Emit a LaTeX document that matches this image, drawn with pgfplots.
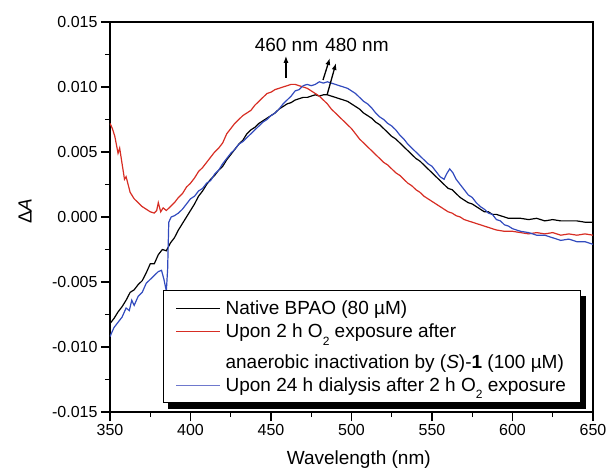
\documentclass[border=0pt]{standalone}
\usepackage{pgfplots}
\pgfplotsset{compat=1.18}
\usepackage{pgfplotstable}
\usepackage{fontspec}
\setmainfont{Liberation Sans}
\usetikzlibrary{arrows.meta}

\definecolor{cred}{RGB}{215,45,35}
\definecolor{cblue}{RGB}{50,75,190}
\definecolor{legblue}{RGB}{110,120,205}

\newcommand{\low}[1]{\raisebox{-0.4em}{\fontsize{12}{12}\selectfont #1}}

% native BPAO
\pgfplotstableread{
x y
350.0 -0.0082
352.5 -0.0078
355.0 -0.0073
357.5 -0.0069
360.0 -0.0064
362.5 -0.0058
365.0 -0.0056
367.5 -0.0052
370.0 -0.0049
372.5 -0.0043
375.0 -0.0036
377.5 -0.0036
380.0 -0.0029
382.5 -0.0025
385.0 -0.0026
387.5 -0.0020
390.0 -0.0016
392.5 -0.0010
395.0 -0.0005
397.5 0.0000
400.0 0.0005
402.5 0.0010
405.0 0.0016
407.5 0.0020
410.0 0.0025
412.5 0.0029
415.0 0.0032
417.5 0.0036
420.0 0.0039
422.5 0.0044
425.0 0.0048
427.5 0.0052
430.0 0.0056
432.5 0.0059
435.0 0.0064
437.5 0.0067
440.0 0.0069
442.5 0.0072
445.0 0.0074
447.5 0.0076
450.0 0.0078
452.5 0.0080
455.0 0.0083
457.5 0.0085
460.0 0.0087
462.5 0.0088
465.0 0.0090
467.5 0.0091
470.0 0.0092
472.5 0.0092
475.0 0.0093
477.5 0.0094
480.0 0.0093
482.5 0.0094
485.0 0.0094
487.5 0.0093
490.0 0.0092
492.5 0.0091
495.0 0.0090
497.5 0.0089
500.0 0.0087
502.5 0.0085
505.0 0.0083
507.5 0.0080
510.0 0.0078
512.5 0.0076
515.0 0.0073
517.5 0.0071
520.0 0.0068
522.5 0.0065
525.0 0.0062
527.5 0.0060
530.0 0.0057
532.5 0.0054
535.0 0.0051
537.5 0.0048
540.0 0.0045
542.5 0.0043
545.0 0.0040
547.5 0.0037
550.0 0.0034
552.5 0.0031
555.0 0.0028
557.5 0.0025
560.0 0.0022
562.5 0.0021
565.0 0.0018
567.5 0.0015
570.0 0.0013
572.5 0.0011
575.0 0.0010
577.5 0.0008
580.0 0.0006
582.5 0.0004
585.0 0.0004
587.5 0.0002
590.0 0.0002
592.5 0.0001
595.0 0.0000
597.5 -0.0001
600.0 -0.0001
605.0 -0.0001
610.0 -0.0002
615.0 -0.0001
620.0 -0.0003
625.0 -0.0002
630.0 -0.0003
635.0 -0.0003
640.0 -0.0003
645.0 -0.0004
650.0 -0.0004
}\native

% 2 h O2 exposure after inactivation
\pgfplotstableread{
x y
350.0 0.0072
351.5 0.0068
353.0 0.0062
355.0 0.0049
356.0 0.0053
357.5 0.0041
359.0 0.0029
360.0 0.0031
362.5 0.0019
365.0 0.0014
367.5 0.0011
370.0 0.0008
372.5 0.0006
375.0 0.0004
377.5 0.0003
379.0 0.0005
380.0 0.0011
381.5 0.0004
383.0 0.0007
385.0 0.0005
387.5 0.0008
390.0 0.0011
392.5 0.0015
395.0 0.0018
397.5 0.0023
400.0 0.0026
402.5 0.0030
405.0 0.0035
407.5 0.0038
410.0 0.0042
412.5 0.0046
415.0 0.0050
417.5 0.0053
420.0 0.0057
422.5 0.0064
425.0 0.0068
427.5 0.0072
430.0 0.0075
432.5 0.0078
435.0 0.0080
437.5 0.0082
440.0 0.0086
442.5 0.0089
445.0 0.0092
447.5 0.0095
450.0 0.0096
452.5 0.0098
455.0 0.0099
457.5 0.0100
460.0 0.0101
462.5 0.0102
465.0 0.0102
467.5 0.0101
470.0 0.0100
472.5 0.0099
475.0 0.0097
477.5 0.0095
480.0 0.0093
482.5 0.0090
485.0 0.0087
487.5 0.0083
490.0 0.0080
492.5 0.0077
495.0 0.0074
497.5 0.0071
500.0 0.0068
502.5 0.0064
505.0 0.0060
507.5 0.0057
510.0 0.0054
512.5 0.0051
515.0 0.0048
517.5 0.0045
520.0 0.0042
522.5 0.0040
525.0 0.0037
527.5 0.0034
530.0 0.0032
532.5 0.0029
535.0 0.0026
537.5 0.0024
540.0 0.0021
542.5 0.0019
545.0 0.0016
547.5 0.0014
550.0 0.0012
552.5 0.0010
555.0 0.0008
557.5 0.0006
560.0 0.0004
562.5 0.0003
565.0 0.0001
567.5 0.0000
570.0 -0.0002
572.5 -0.0003
575.0 -0.0004
577.5 -0.0005
580.0 -0.0006
582.5 -0.0007
585.0 -0.0008
587.5 -0.0009
590.0 -0.0010
595.0 -0.0011
600.0 -0.0011
605.0 -0.0012
610.0 -0.0013
615.0 -0.0012
620.0 -0.0013
625.0 -0.0012
630.0 -0.0014
635.0 -0.0013
640.0 -0.0014
645.0 -0.0013
650.0 -0.0014
}\oxposed

% 24 h dialysis
\pgfplotstableread{
x y
350.0 -0.0092
352.5 -0.0085
355.0 -0.0081
357.5 -0.0077
360.0 -0.0070
362.0 -0.0072
363.5 -0.0064
365.0 -0.0068
367.5 -0.0061
370.0 -0.0058
372.5 -0.0051
375.0 -0.0048
377.5 -0.0045
380.0 -0.0042
382.0 -0.0041
383.5 -0.0048
385.0 -0.0057
385.8 -0.0040
386.5 -0.0004
388.0 0.0000
390.0 0.0001
392.5 0.0003
395.0 0.0006
397.5 0.0010
400.0 0.0014
402.5 0.0016
405.0 0.0020
407.5 0.0022
410.0 0.0026
412.5 0.0028
415.0 0.0033
417.5 0.0036
420.0 0.0041
422.5 0.0045
425.0 0.0049
427.5 0.0052
430.0 0.0056
432.5 0.0058
435.0 0.0061
437.5 0.0064
440.0 0.0067
442.5 0.0070
445.0 0.0073
447.5 0.0075
450.0 0.0078
452.5 0.0080
455.0 0.0083
457.5 0.0087
460.0 0.0090
462.5 0.0093
465.0 0.0097
467.5 0.0098
470.0 0.0101
472.5 0.0102
475.0 0.0101
477.5 0.0102
480.0 0.0104
482.5 0.0103
485.0 0.0104
487.5 0.0103
490.0 0.0102
492.5 0.0101
495.0 0.0100
497.5 0.0099
500.0 0.0097
502.5 0.0095
505.0 0.0092
507.5 0.0089
510.0 0.0087
512.5 0.0084
515.0 0.0080
517.5 0.0077
520.0 0.0075
522.5 0.0072
525.0 0.0070
527.5 0.0067
530.0 0.0063
532.5 0.0060
535.0 0.0056
537.5 0.0053
540.0 0.0050
542.5 0.0047
545.0 0.0044
547.5 0.0041
550.0 0.0039
552.5 0.0035
555.0 0.0031
557.5 0.0029
559.0 0.0033
561.0 0.0037
563.0 0.0034
565.0 0.0029
567.5 0.0025
570.0 0.0021
572.5 0.0017
575.0 0.0015
577.5 0.0011
580.0 0.0008
582.5 0.0006
585.0 0.0003
587.5 0.0002
590.0 -0.0002
592.5 -0.0003
595.0 -0.0006
597.5 -0.0007
600.0 -0.0009
605.0 -0.0011
610.0 -0.0012
615.0 -0.0014
620.0 -0.0014
625.0 -0.0016
630.0 -0.0018
635.0 -0.0017
640.0 -0.0019
645.0 -0.0019
650.0 -0.0021
}\dialysed

\begin{document}
\begin{tikzpicture}
\begin{axis}[
  at={(0,0)}, anchor=south west,
  width=483pt, height=390pt, scale only axis,
  xmin=350, xmax=650, ymin=-0.015, ymax=0.015,
  xtick={350,400,450,500,550,600,650},
  ytick={-0.015,-0.010,-0.005,0,0.005,0.010,0.015},
  minor x tick num=1, minor y tick num=1,
  xtick pos=bottom, ytick pos=left, tick align=outside,
  major tick length=9pt, minor tick length=5pt,
  major tick style={black, line width=1.4pt},
  minor tick style={black, line width=1.2pt},
  axis line style={line width=2pt},
  scaled y ticks=false,
  /pgf/number format/assume math mode=true,
  yticklabel style={/pgf/number format/fixed, /pgf/number format/fixed zerofill, /pgf/number format/precision=3},
  ticklabel style={font=\fontsize{16}{18}\selectfont},
  xlabel={Wavelength (nm)},
  ylabel={Δ\textit{A}},
  label style={font=\fontsize{19}{22}\selectfont},
  x label style={at={(axis description cs:0.515,-0.123)}, anchor=center},
  y label style={at={(axis description cs:-0.176,0.515)}, anchor=center},
  legend cell align=left,
  legend style={at={(0.1097,0.3128)}, anchor=north west, name=leg,
    draw=black, line width=1pt, fill=white,
    font=\fontsize{19}{21}\selectfont,
    inner xsep=12pt, inner ysep=8pt, row sep=4pt, column sep=3pt,
    nodes={inner sep=2pt}},
]
\addplot[black, line width=1.2pt, forget plot] table {\native};
\addplot[cred, line width=1.2pt, forget plot] table {\oxposed};
\addplot[cblue, line width=1.2pt, forget plot] table {\dialysed};

\addlegendimage{legend image code/.code={\draw[black, line width=1.1pt] (0pt,0pt) -- (44pt,0pt);}}
\addlegendentry{Native BPAO (80 µM)}
\addlegendimage{legend image code/.code={\draw[cred, line width=1.1pt] (0pt,0pt) -- (44pt,0pt);}}
\addlegendentry{Upon 2 h O\low{2} exposure after}
\addlegendimage{empty legend}
\addlegendentry{\rule{0pt}{21pt}anaerobic inactivation by (\textit{S})-\textbf{1} (100 µM)}
\addlegendimage{legend image code/.code={\draw[legblue, line width=1.1pt] (0pt,0pt) -- (44pt,0pt);}}
\addlegendentry{Upon 24 h dialysis after 2 h O\low{2} exposure}

% peak markers
\draw[-{Latex[length=7pt,width=5pt]}, line width=1.3pt] (axis cs:459.3,0.0107) -- (axis cs:459.3,0.0124);
\draw[-{Latex[length=7pt,width=5pt]}, line width=1.3pt] (axis cs:482.3,0.01054) -- (axis cs:486.6,0.01223);
\draw[-{Latex[length=7pt,width=5pt]}, line width=1.3pt] (axis cs:484.8,0.00938) -- (axis cs:490.4,0.01185);
\node[font=\fontsize{19}{21}\selectfont] at (axis cs:459.6,0.0132) {460 nm};
\node[font=\fontsize{19}{21}\selectfont] at (axis cs:503.4,0.0132) {480 nm};
\end{axis}
% legend shadow: right and bottom strips
\fill[black] ([shift={(0pt,-5.5pt)}]leg.north east) rectangle ([shift={(5.5pt,-5.5pt)}]leg.south east);
\fill[black] ([shift={(5.5pt,-5.5pt)}]leg.south west) rectangle (leg.south east);
\pgfresetboundingbox
\path (-110pt,-58pt) rectangle (499pt,412pt);
\end{tikzpicture}
\end{document}
